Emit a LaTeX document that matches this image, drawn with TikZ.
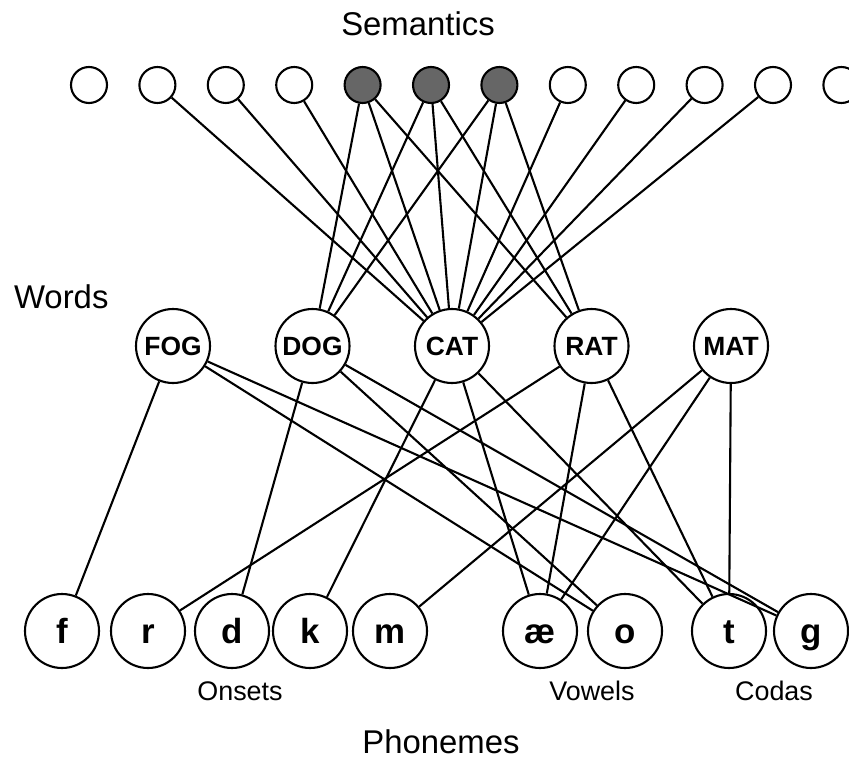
\documentclass[tikz,border=0pt]{standalone}
\usepackage{fontspec}
\setmainfont{Liberation Sans}

\begin{document}
\begin{tikzpicture}[x=1bp, y=-1bp, line width=2.1bp, node distance=68.4bp,
  sem/.style={circle, draw, minimum size=36bp, inner sep=0pt},
  shaded/.style={sem, fill=black!60},
  word/.style={circle, draw, minimum size=74bp, inner sep=0pt, font=\fontsize{26.5}{26.5}\selectfont\bfseries, text height=19bp, text depth=0pt},
  phon/.style={circle, draw, minimum size=74bp, inner sep=0pt, font=\fontsize{35}{35}\selectfont\bfseries, text height=25bp, text depth=0pt},
  title/.style={anchor=base, inner sep=0pt, font=\fontsize{33}{33}\selectfont},
  group/.style={anchor=base, inner sep=0pt, font=\fontsize{27}{27}\selectfont}]
\useasboundingbox (0,0) rectangle (849,760);
%nodes

\node (semantics) [title] at (418,36)    {Semantics};
\node (s1) [sem] at (89,85)              {};
\node (s2) [sem, right of=s1]            {};
\node (s3) [sem, right of=s2]            {};
\node (s4) [sem, right of=s3]            {};
\node (s5) [shaded, right of=s4]         {};
\node (s6) [shaded, right of=s5]         {};
\node (s7) [shaded, right of=s6]         {};
\node (s8) [sem, right of=s7]            {};
\node (s9) [sem, right of=s8]            {};
\node (s10) [sem, right of=s9]           {};
\node (s11) [sem, right of=s10]          {};
\node (s12) [sem, right of=s11]          {};


\node (words) [title, anchor=base west] at (13,308) {Words};
\node (FOG) [word] at (173,346)                     {FOG};
\node (DOG) [word, right of=FOG, node distance=139.5bp] {DOG};
\node (CAT) [word, right of=DOG, node distance=139.5bp] {CAT};
\node (RAT) [word, right of=CAT, node distance=139.5bp] {RAT};
\node (MAT) [word, right of=RAT, node distance=139.5bp] {MAT};


\node (f) [phon] at (62,631)                        {f};
\node (r) [phon, right of=f, node distance=86bp]    {r};
\node (d) [phon, right of=r, node distance=84bp]    {d};
\node (k) [phon, right of=d, node distance=78bp]    {k};
\node (m) [phon, right of=k, node distance=80bp]    {m};
\node (ae) [phon, right of=m, node distance=150bp]  {æ};
\node (o) [phon, right of=ae, node distance=85bp]   {o};
\node (t) [phon, right of=o, node distance=104bp]   {t};
\node (g) [phon, right of=t, node distance=82bp]    {g};

\node (onsets) [group] at (240,700)     {Onsets};
\node (vowels) [group] at (592,700)     {Vowels};
\node (codas) [group] at (774,700)      {Codas};
\node (phonemes) [title] at (441,753)   {Phonemes};


%links
\draw[-] (s2) to (CAT);
\draw[-] (s3) to (CAT);
\draw[-] (s4) to (CAT);
\draw[-] (s5) to (DOG);
\draw[-] (s5) to (CAT);
\draw[-] (s5) to (RAT);
\draw[-] (s6) to (DOG);
\draw[-] (s6) to (CAT);
\draw[-] (s6) to (RAT);
\draw[-] (s7) to (DOG);
\draw[-] (s7) to (CAT);
\draw[-] (s7) to (RAT);
\draw[-] (s8) to (CAT);
\draw[-] (s9) to (CAT);
\draw[-] (s10) to (CAT);
\draw[-] (s11) to (CAT);

\draw[-] (FOG) to (f);
\draw[-] (FOG) to (o);
\draw[-] (FOG) to (g);
\draw[-] (DOG) to (d);
\draw[-] (DOG) to (o);
\draw[-] (DOG) to (g);
\draw[-] (CAT) to (k);
\draw[-] (CAT) to (ae);
\draw[-] (CAT) to (t);
\draw[-] (RAT) to (r);
\draw[-] (RAT) to (ae);
\draw[-] (RAT) to (t);
\draw[-] (MAT) to (m);
\draw[-] (MAT) to (ae);
\draw[-] (MAT) to (t);
\end{tikzpicture}
\end{document}
